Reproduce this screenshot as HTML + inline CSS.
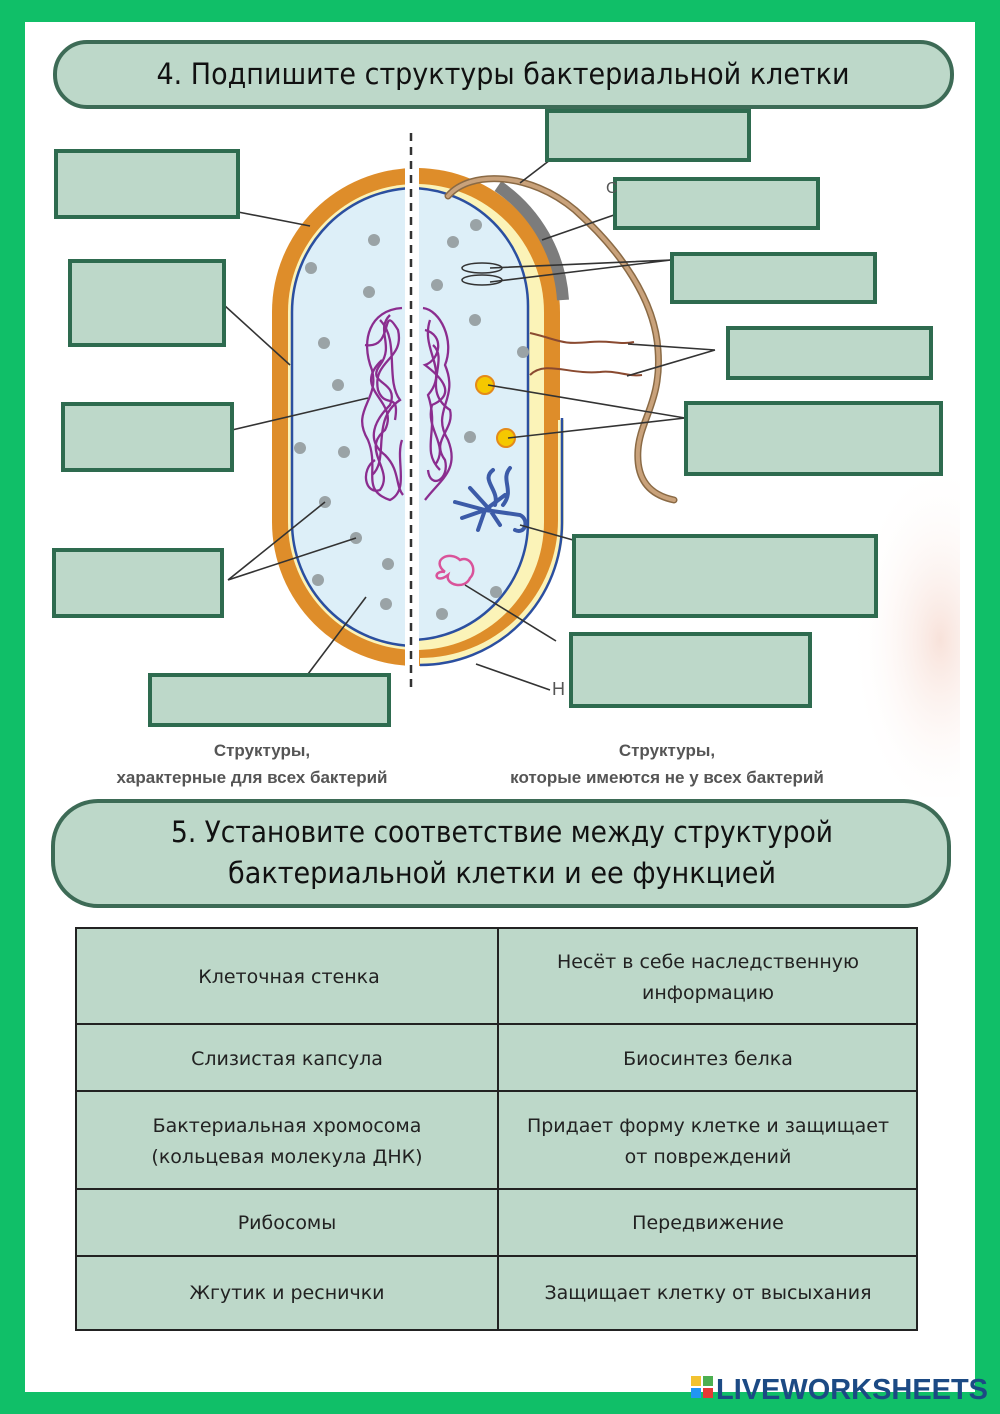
<!DOCTYPE html>
<html><head><meta charset="utf-8"><style>
html,body{margin:0;padding:0;background:#fff}
svg{display:block}
</style></head><body>
<svg width="1000" height="1414" viewBox="0 0 1000 1414" xmlns="http://www.w3.org/2000/svg">
<defs>
<radialGradient id="pk" cx="0.5" cy="0.5" r="0.5">
<stop offset="0" stop-color="#f8e2da"/><stop offset="1" stop-color="#fff" stop-opacity="0"/>
</radialGradient>
<clipPath id="wh"><rect x="25" y="22" width="935" height="775"/></clipPath>
</defs>
<rect width="1000" height="1414" fill="#10bf68"/>
<rect x="25" y="22" width="950" height="1370" fill="#fff"/>
<ellipse cx="940" cy="640" rx="90" ry="180" fill="url(#pk)" clip-path="url(#wh)"/>

<!-- header 1 -->
<rect x="55" y="42" width="897" height="65" rx="32" fill="#bdd8c9" stroke="#3d6b56" stroke-width="4"/>
<text x="503" y="84" text-anchor="middle" font-family="DejaVu Sans Condensed, Liberation Sans, sans-serif" font-size="29" fill="#111" textLength="693" lengthAdjust="spacingAndGlyphs">4. Подпишите структуры бактериальной клетки</text>

<!-- dashed line -->
<line x1="411" y1="133" x2="411" y2="692" stroke="#333" stroke-width="2.5" stroke-dasharray="8,6"/>

<!-- cell -->
<clipPath id="cl"><rect x="0" y="0" width="405" height="800"/></clipPath>
<clipPath id="cr"><rect x="419" y="0" width="600" height="800"/></clipPath>
<g clip-path="url(#cl)">
<rect x="272" y="168" width="288" height="498" rx="144" fill="#de8d2a"/>
<rect x="288" y="184" width="256" height="466" rx="128" fill="#fbf3b8"/>
<rect x="292" y="188" width="248" height="458" rx="124" fill="#ddeff8" stroke="#2b4fa0" stroke-width="2.5"/>
</g>
<g clip-path="url(#cr)">
<rect x="272" y="168" width="288" height="498" rx="144" fill="#de8d2a"/>
<rect x="288" y="184" width="256" height="466" rx="128" fill="#fbf3b8"/>
<rect x="292" y="188" width="236" height="452" rx="118" fill="#ddeff8" stroke="#2b4fa0" stroke-width="2.5"/>
<path d="M561 420 V520 A141 141 0 0 1 420 661" fill="none" stroke="#fbf3b8" stroke-width="6"/>
<path d="M562 418 V522 A142 142 0 0 1 420 665" fill="none" stroke="#2b4fa0" stroke-width="2.5"/>
</g>
<path d="M498 186 A150 150 0 0 1 563 300" fill="none" stroke="#7c7c7c" stroke-width="12"/>

<!-- ribosomes -->
<g fill="#9aa3a6">
<circle cx="374" cy="240" r="6"/><circle cx="311" cy="268" r="6"/><circle cx="369" cy="292" r="6"/>
<circle cx="324" cy="343" r="6"/><circle cx="338" cy="385" r="6"/><circle cx="300" cy="448" r="6"/>
<circle cx="344" cy="452" r="6"/><circle cx="325" cy="502" r="6"/><circle cx="356" cy="538" r="6"/>
<circle cx="388" cy="564" r="6"/><circle cx="318" cy="580" r="6"/><circle cx="386" cy="604" r="6"/>
<circle cx="476" cy="225" r="6"/><circle cx="453" cy="242" r="6"/><circle cx="437" cy="285" r="6"/>
<circle cx="475" cy="320" r="6"/><circle cx="523" cy="352" r="6"/><circle cx="470" cy="437" r="6"/>
<circle cx="496" cy="592" r="6"/><circle cx="442" cy="614" r="6"/>
</g>
<!-- nucleoid -->
<g fill="none" stroke="#8b2d8f" stroke-width="2.3">
<path d="M402 308 C370 310 360 340 372 370 C380 400 350 410 368 440 C380 470 360 490 390 500 C410 490 395 460 402 440"/>
<path d="M380 320 C400 340 385 380 400 400 C370 420 390 460 372 475"/>
<path d="M365 345 C395 350 380 300 398 330 C405 360 372 360 378 390 C385 410 400 390 395 420"/>
<path d="M382 360 C350 390 400 400 385 430 C360 450 395 470 380 490 C365 495 360 470 375 460"/>
<path d="M390 315 C375 330 395 345 380 365 C365 385 400 380 390 405 C375 420 365 440 385 455 C400 470 395 485 403 495"/>
<path d="M423 308 C440 310 455 340 445 365 C460 400 430 410 448 440 C460 470 440 480 425 500"/>
<path d="M430 320 C420 350 450 370 428 395 C440 430 420 450 440 470"/>
<path d="M433 345 C450 360 420 390 450 410 C455 430 430 440 445 460 C450 480 430 490 428 470"/>
<path d="M425 330 C445 335 440 360 425 365 C445 380 455 395 432 405 C425 430 450 445 435 465"/>
</g>
<!-- plasmids / mesosome -->
<g fill="none" stroke="#333" stroke-width="1.5">
<ellipse cx="482" cy="268" rx="20" ry="5"/><ellipse cx="482" cy="280" rx="20" ry="5"/>
</g>
<g fill="none" stroke="#3c5ba8" stroke-width="4" stroke-linecap="round">
<path d="M455 502 L485 510 L505 495 M470 488 L490 510 L500 525 M462 518 L485 510 L478 530 M493 470 C480 480 500 490 495 505 M510 468 C500 480 515 490 503 505 M485 510 L520 515 C530 520 525 535 515 530"/>
</g>
<path d="M445 572 C430 560 450 550 460 560 C470 555 478 570 470 578 C465 590 445 585 448 575 C435 585 432 570 445 572" fill="none" stroke="#d9539a" stroke-width="2.5"/>
<circle cx="485" cy="385" r="9" fill="#f5c800" stroke="#e48a1a" stroke-width="2"/>
<circle cx="506" cy="438" r="9" fill="#f5c800" stroke="#e48a1a" stroke-width="2"/>
<!-- pili -->
<g fill="none" stroke="#8a4a30" stroke-width="2">
<path d="M530 333 C560 340 560 345 590 342 C610 340 620 345 634 342"/>
<path d="M530 375 C545 360 570 375 600 372 C615 370 628 377 642 375"/>
</g>
<!-- flagellum -->
<path d="M448 196 C470 170 530 172 575 210 C620 250 655 300 658 350 C662 400 640 420 638 450 C636 480 650 495 674 500" fill="none" stroke="#8a6a45" stroke-width="7" stroke-linecap="round"/>
<path d="M448 196 C470 170 530 172 575 210 C620 250 655 300 658 350 C662 400 640 420 638 450 C636 480 650 495 674 500" fill="none" stroke="#c9a27b" stroke-width="4" stroke-linecap="round"/>

<!-- leader lines -->
<g stroke="#333" stroke-width="1.6" fill="none">
<path d="M238 212 L310 226"/>
<path d="M224 305 L290 365"/>
<path d="M232 430 L368 398"/>
<path d="M228 580 L325 502 M228 580 L356 538"/>
<path d="M308 674 L366 597"/>
<path d="M550 160 L520 183"/>
<path d="M614 215 L542 240"/>
<path d="M671 260 L490 268 M671 260 L490 282"/>
<path d="M715 350 L628 344 M715 350 L627 376"/>
<path d="M685 418 L488 385 M685 418 L508 438"/>
<path d="M573 540 L520 525"/>
<path d="M556 641 L465 585"/>
<path d="M550 690 L476 664"/>
</g>

<!-- label boxes -->
<g fill="#bdd8c9" stroke="#2e6b4f" stroke-width="4">
<rect x="56" y="151" width="182" height="66"/>
<rect x="70" y="261" width="154" height="84"/>
<rect x="63" y="404" width="169" height="66"/>
<rect x="54" y="550" width="168" height="66"/>
<rect x="150" y="675" width="239" height="50"/>
<rect x="547" y="111" width="202" height="49"/>
<rect x="615" y="179" width="203" height="49"/>
<rect x="672" y="254" width="203" height="48"/>
<rect x="728" y="328" width="203" height="50"/>
<rect x="686" y="403" width="255" height="71"/>
<rect x="574" y="536" width="302" height="80"/>
<rect x="571" y="634" width="239" height="72"/>
</g>
<text x="552" y="695" font-family="Liberation Sans, sans-serif" font-size="18" fill="#555">Н</text>
<text x="606" y="193" font-family="Liberation Sans, sans-serif" font-size="16" fill="#555">С</text>

<!-- captions -->
<g font-family="Liberation Sans, sans-serif" font-size="17" font-weight="bold" fill="#555" text-anchor="middle">
<text x="262" y="756">Структуры,</text>
<text x="252" y="783">характерные для всех бактерий</text>
<text x="667" y="756">Структуры,</text>
<text x="667" y="783">которые имеются не у всех бактерий</text>
</g>

<!-- header 2 -->
<rect x="53" y="801" width="896" height="105" rx="45" fill="#bdd8c9" stroke="#3d6b56" stroke-width="4"/>
<g font-family="DejaVu Sans Condensed, Liberation Sans, sans-serif" font-size="29" fill="#111" text-anchor="middle">
<text x="502" y="842" textLength="662" lengthAdjust="spacingAndGlyphs">5. Установите соответствие между структурой</text>
<text x="502" y="883" textLength="548" lengthAdjust="spacingAndGlyphs">бактериальной клетки и ее функцией</text>
</g>

<!-- table -->
<g fill="#bdd8c9" stroke="#222" stroke-width="2">
<rect x="76" y="928" width="841" height="402"/>
<path d="M498 928 V1330 M76 1024 H917 M76 1091 H917 M76 1189 H917 M76 1256 H917" fill="none"/>
</g>
<g font-family="DejaVu Sans, Liberation Sans, sans-serif" font-size="19" fill="#222" text-anchor="middle">
<text x="289" y="983">Клеточная стенка</text>
<text x="708" y="968">Несёт в себе наследственную</text>
<text x="708" y="999">информацию</text>
<text x="287" y="1065">Слизистая капсула</text>
<text x="708" y="1065">Биосинтез белка</text>
<text x="287" y="1132">Бактериальная хромосома</text>
<text x="287" y="1163">(кольцевая молекула ДНК)</text>
<text x="708" y="1132">Придает форму клетке  и защищает</text>
<text x="708" y="1163">от повреждений</text>
<text x="287" y="1229">Рибосомы</text>
<text x="708" y="1229">Передвижение</text>
<text x="287" y="1299">Жгутик и реснички</text>
<text x="708" y="1299">Защищает клетку от высыхания</text>
</g>

<!-- logo -->
<rect x="691" y="1376" width="10" height="10" fill="#f2c230"/>
<rect x="703" y="1376" width="10" height="10" fill="#4caf50"/>
<rect x="691" y="1388" width="10" height="10" fill="#2196f3"/>
<rect x="703" y="1388" width="10" height="10" fill="#e53935"/>
<text x="716" y="1399" font-family="Liberation Sans, sans-serif" font-size="29" font-weight="bold" fill="#1c4a84" textLength="272" lengthAdjust="spacingAndGlyphs">LIVEWORKSHEETS</text>
</svg>
</body></html>
